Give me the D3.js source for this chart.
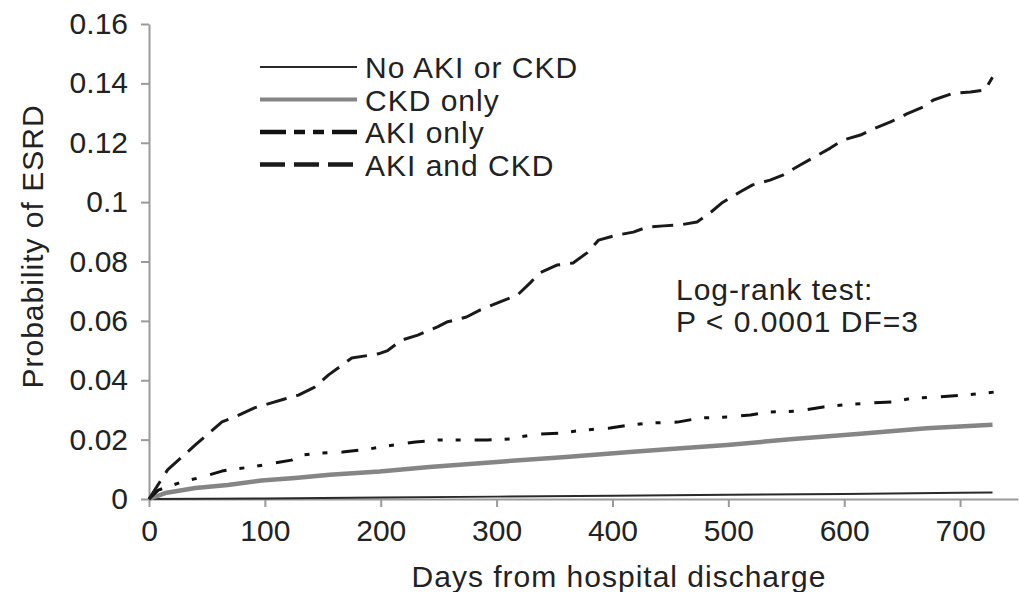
<!DOCTYPE html>
<html>
<head>
<meta charset="utf-8">
<script src="https://cdn.jsdelivr.net/npm/d3@7"></script>
<style>
  html, body { margin: 0; padding: 0; background: #fff; }
  svg { display: block; }
  text { font-family: "Liberation Sans", Arial, sans-serif; fill: #222; }
</style>
</head>
<body>
<svg id="chart" width="1019" height="592"></svg>
<script>
// Cumulative probability of ESRD by days from hospital discharge
const xTicks = [0, 100, 200, 300, 400, 500, 600, 700];
const yTicks = [0, 0.02, 0.04, 0.06, 0.08, 0.1, 0.12, 0.14, 0.16];
const yTickLabels = ["0", "0.02", "0.04", "0.06", "0.08", "0.1", "0.12", "0.14", "0.16"];

const groups = ["No AKI or CKD", "CKD only", "AKI only", "AKI and CKD"];

// [day, probability]
const noAkiOrCkd = [
  [0, 0], [100, 0.0002], [200, 0.0005], [300, 0.0008], [400, 0.0011],
  [500, 0.0014], [600, 0.0017], [700, 0.0021], [728, 0.0022]
];
const ckdOnly = [
  [0, 0], [14, 0.002], [40, 0.0037], [68, 0.0047], [97, 0.0062], [126, 0.0071],
  [156, 0.0082], [199, 0.0093], [242, 0.0108], [300, 0.0125], [357, 0.0141],
  [415, 0.0158], [456, 0.017], [499, 0.0182], [556, 0.0202], [614, 0.022],
  [671, 0.0238], [728, 0.025]
];
const akiOnly = [
  [0, 0], [8, 0.003], [28, 0.0057], [46, 0.0074], [63, 0.0094], [72, 0.01],
  [89, 0.0108], [104, 0.0118], [123, 0.0131], [132, 0.0148], [149, 0.0155],
  [167, 0.0158], [189, 0.0168], [212, 0.0182], [230, 0.0192], [251, 0.0199],
  [292, 0.0199], [312, 0.0202], [320, 0.0209], [337, 0.0219], [355, 0.0222],
  [375, 0.0232], [398, 0.0239], [415, 0.0249], [432, 0.0256], [456, 0.0259],
  [476, 0.0273], [499, 0.0276], [519, 0.0283], [536, 0.0293], [559, 0.0296],
  [582, 0.031], [599, 0.0317], [622, 0.0323], [642, 0.0327], [659, 0.034],
  [683, 0.0344], [703, 0.035], [722, 0.0357], [729, 0.036]
];
const akiAndCkd = [
  [0, 0], [16, 0.0098], [40, 0.0182], [63, 0.026], [74, 0.0276], [91, 0.0307],
  [100, 0.0317], [117, 0.0337], [129, 0.035], [143, 0.0377], [155, 0.0418],
  [175, 0.0475], [198, 0.0489], [206, 0.05], [218, 0.0535], [232, 0.0552],
  [249, 0.058], [257, 0.0596], [274, 0.0613], [286, 0.0637], [303, 0.0664],
  [318, 0.0687], [329, 0.0728], [337, 0.0761], [352, 0.0788], [366, 0.0795],
  [378, 0.0829], [388, 0.0872], [404, 0.0889], [418, 0.0899], [430, 0.0916],
  [444, 0.092], [458, 0.0923], [473, 0.0933], [484, 0.0963], [495, 0.0999],
  [510, 0.1034], [521, 0.1058], [536, 0.1074], [547, 0.1091], [562, 0.1125],
  [573, 0.1149], [588, 0.1182], [599, 0.1209], [614, 0.1226], [625, 0.1246],
  [640, 0.127], [654, 0.1297], [668, 0.132], [677, 0.1344], [694, 0.1367],
  [709, 0.1371], [722, 0.1378], [724, 0.1394], [728, 0.1421]
];

const seriesData = [noAkiOrCkd, ckdOnly, akiOnly, akiAndCkd];

// Line styles per group: plot stroke and legend stroke
const styles = [
  { color: "#2a2a2a", width: 2, dash: null, legendWidth: 2, legendDash: null },
  { color: "#858585", width: 4.5, dash: null, legendWidth: 4, legendDash: null },
  { color: "#111", width: 3, dash: "17,13,5,13,5,14", legendWidth: 4.5, legendDash: "26,8,11,8,11,8" },
  { color: "#1a1a1a", width: 3, dash: "21,10", legendWidth: 4.5, legendDash: "25,9" }
];

const svg = d3.select("#chart");

const x = d3.scaleLinear().domain([0, 750]).range([149, 1018]);
const y = d3.scaleLinear().domain([0, 0.16]).range([499, 24]);

const axisColor = "#9a9a9a";

// X axis
const gx = svg.append("g")
  .attr("transform", `translate(0,${y(0)})`)
  .call(d3.axisBottom(x).tickValues(xTicks).tickSize(8).tickPadding(13).tickSizeOuter(0));
// Y axis
const gy = svg.append("g")
  .attr("transform", `translate(${x(0)},0)`)
  .call(d3.axisLeft(y).tickValues(yTicks).tickFormat((d, i) => yTickLabels[i])
    .tickSize(8).tickPadding(13).tickSizeOuter(0));

[gx, gy].forEach(g => {
  g.select(".domain").attr("stroke", axisColor).attr("stroke-width", 2);
  g.selectAll(".tick line").attr("stroke", axisColor).attr("stroke-width", 2);
  g.selectAll(".tick text")
    .attr("fill", "#222")
    .style("font-family", "'Liberation Sans', Arial, sans-serif")
    .style("font-size", "30px");
});

// Curves
const line = d3.line().x(d => x(d[0])).y(d => y(d[1]));
seriesData.forEach((data, i) => {
  const s = styles[i];
  svg.append("path")
    .datum(data)
    .attr("fill", "none")
    .attr("stroke", s.color)
    .attr("stroke-width", s.width)
    .attr("stroke-dasharray", s.dash)
    .attr("stroke-linejoin", "round")
    .attr("d", line);
});

// Legend
const legend = svg.append("g").attr("transform", "translate(260,67)");
groups.forEach((name, i) => {
  const s = styles[i];
  const row = legend.append("g").attr("transform", `translate(0,${i * 32.5})`);
  row.append("line")
    .attr("x1", 0).attr("x2", 97).attr("y1", 0).attr("y2", 0)
    .attr("stroke", s.color)
    .attr("stroke-width", s.legendWidth)
    .attr("stroke-dasharray", s.legendDash);
  row.append("text")
    .attr("x", 105).attr("y", 11)
    .style("font-size", "30px")
    .style("letter-spacing", "1px")
    .text(name);
});

// Test annotation
const note = svg.append("g").attr("transform", "translate(676,300)");
note.append("text").attr("x", 0).attr("y", 0)
  .style("font-size", "30px").style("letter-spacing", "1px")
  .text("Log-rank test:");
note.append("text").attr("x", 0).attr("y", 32)
  .style("font-size", "30px").style("letter-spacing", "1px")
  .text("P < 0.0001 DF=3");

// Axis titles
svg.append("text")
  .attr("x", 619).attr("y", 587)
  .attr("text-anchor", "middle")
  .style("font-size", "30px").style("letter-spacing", "1px")
  .text("Days from hospital discharge");

svg.append("text")
  .attr("transform", "translate(43,246.5) rotate(-90)")
  .attr("text-anchor", "middle")
  .style("font-size", "30px").style("letter-spacing", "1px")
  .text("Probability of ESRD");
</script>
</body>
</html>
